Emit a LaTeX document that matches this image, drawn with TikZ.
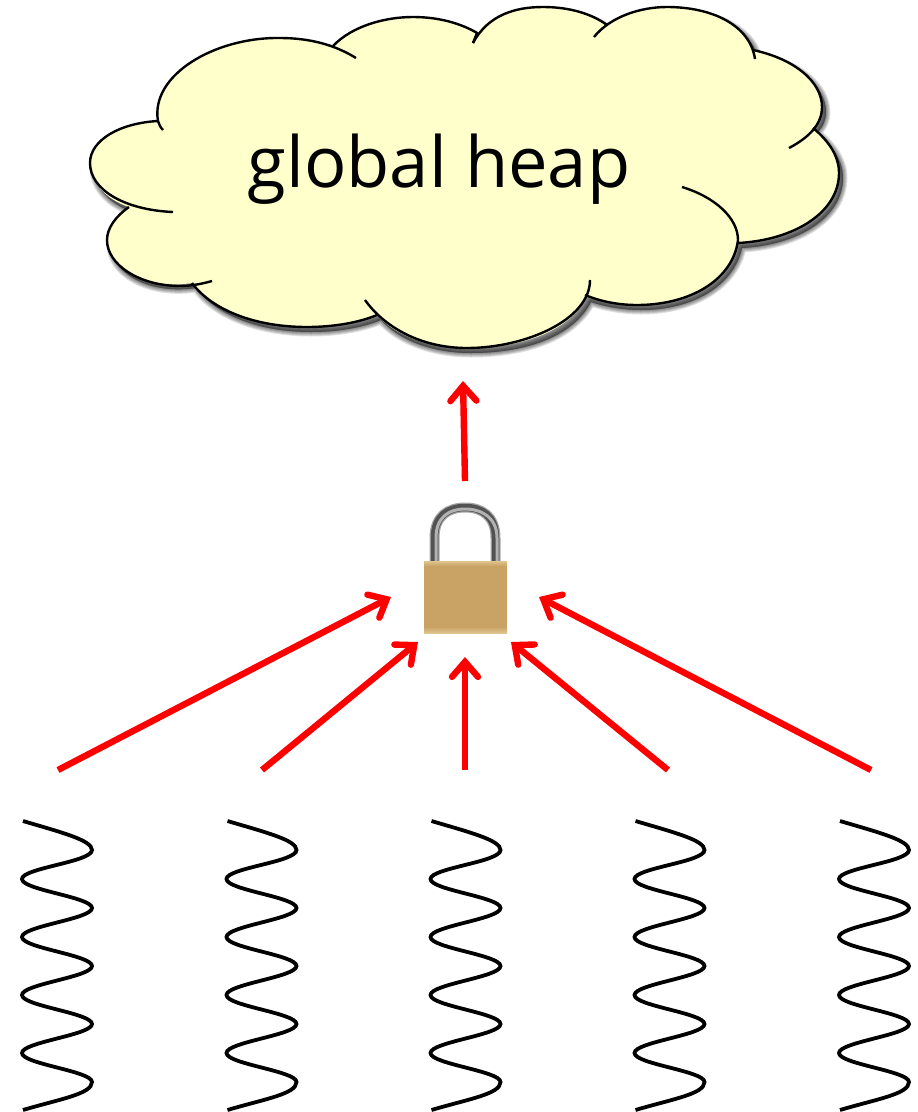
\documentclass[tikz,border=0pt]{standalone}
\usepackage{fontspec}
\setmainfont{Open Sans}
\usetikzlibrary{arrows.meta}
\definecolor{cloudfill}{HTML}{FFFFCC}
\definecolor{brass}{HTML}{C9A365}
\definecolor{brasslight}{HTML}{E0C58F}
\definecolor{arrowred}{HTML}{FF0000}
\newcommand{\cloudoutline}{
  (158,121)
  .. controls (150,75) and (215,37) .. (280,38)
  .. controls (300,38) and (318,41) .. (333,46)
  .. controls (352,26) and (385,17) .. (413,17)
  .. controls (440,17) and (462,24) .. (477,33)
  .. controls (490,15) and (515,7) .. (543,7)
  .. controls (570,7) and (592,14) .. (607,25)
  .. controls (622,13) and (645,7) .. (667,7)
  .. controls (712,7) and (746,25) .. (753,50)
  .. controls (795,59) and (822,82) .. (822,107)
  .. controls (822,115) and (819,122) .. (813,128)
  .. controls (830,142) and (839,157) .. (839,173)
  .. controls (839,212) and (795,240) .. (738,243)
  .. controls (730,280) and (690,305) .. (637,305)
  .. controls (620,305) and (602,302) .. (587,297)
  .. controls (570,330) and (525,348) .. (467,348)
  .. controls (428,348) and (395,335) .. (377,315)
  .. controls (358,323) and (332,327) .. (307,327)
  .. controls (255,327) and (212,310) .. (192,283)
  .. controls (145,290) and (107,268) .. (107,240)
  .. controls (107,228) and (116,216) .. (129,207)
  .. controls (105,199) and (90,182) .. (90,163)
  .. controls (90,140) and (120,123) .. (158,121)
  -- cycle}
\newcommand{\wave}[1]{
  \begin{scope}[xshift=#1]
  \draw[waveline] (23,821)
    .. controls (60,832) and (92,840) .. (92,850)
    .. controls (92,862) and (22,868) .. (22,879)
    .. controls (22,890) and (92,897) .. (92,908)
    .. controls (92,919) and (22,926) .. (22,937)
    .. controls (22,948) and (92,955) .. (92,966)
    .. controls (92,977) and (22,984) .. (22,995)
    .. controls (22,1006) and (92,1013) .. (92,1024)
    .. controls (92,1035) and (22,1042) .. (22,1053)
    .. controls (22,1064) and (92,1071) .. (92,1082)
    .. controls (92,1094) and (60,1099) .. (23,1110);
  \end{scope}}
\tikzset{
  cloudline/.style={line width=2.4pt,black,line cap=butt},
  waveline/.style={line width=3.8pt,black},
  flow/.style={line width=6.4pt,arrowred,-{Straight Barb[length=15pt,width=26pt,line cap=round]}},
  label/.style={font=\fontsize{70.5}{71}\selectfont,text=black,inner sep=0pt,anchor=base},
  shackle/.style={line width=#1,line cap=butt}
}
\newcommand{\shacklepath}{(434.5,561) -- (434.5,538) .. controls (434.5,516) and (448,507.5) .. (465,507.5) .. controls (482,507.5) and (495.5,516) .. (495.5,538) -- (495.5,561)}
\begin{document}
\begin{tikzpicture}[x=1pt,y=-1pt]
\useasboundingbox (0,0) rectangle (918,1112);
% cloud shadow
\foreach \w in {9,7,5,3,1}{
  \fill[black,opacity=0.12,draw=black,line width=\w pt,line join=round,xshift=4pt,yshift=-5pt] \cloudoutline;
}
\fill[cloudfill] \cloudoutline;
% cloud lobes
\draw[cloudline]
  (163,130) .. controls (160,127) and (159,124) .. (158,121)
  .. controls (150,75) and (215,37) .. (280,38)
  .. controls (310,38) and (335,45) .. (356,58);
\draw[cloudline]
  (333,46) .. controls (352,26) and (385,17) .. (413,17)
  .. controls (440,17) and (462,24) .. (477,33)
  -- (473,43);
\draw[cloudline]
  (473,43) .. controls (488,15) and (515,7) .. (543,7)
  .. controls (570,7) and (592,14) .. (607,25);
\draw[cloudline]
  (594,37) .. controls (610,17) and (640,7) .. (667,7)
  .. controls (712,7) and (750,25) .. (755,59);
\draw[cloudline]
  (753,50) .. controls (795,59) and (822,82) .. (822,107)
  .. controls (822,125) and (808,138) .. (789,148);
\draw[cloudline]
  (813,128) .. controls (830,142) and (839,157) .. (839,173)
  .. controls (839,212) and (795,240) .. (738,243);
\draw[cloudline]
  (682,187) .. controls (715,197) and (738,218) .. (738,240)
  .. controls (733,280) and (690,305) .. (637,305)
  .. controls (620,305) and (602,302) .. (585,295);
\draw[cloudline]
  (590,280) .. controls (590,320) and (525,348) .. (467,348)
  .. controls (422,348) and (385,328) .. (365,300);
\draw[cloudline]
  (377,315) .. controls (358,323) and (332,327) .. (307,327)
  .. controls (255,327) and (212,310) .. (192,283);
\draw[cloudline]
  (212,281) .. controls (205,283) and (193,286) .. (180,286)
  .. controls (140,286) and (107,265) .. (107,240)
  .. controls (107,228) and (116,216) .. (129,207);
\draw[cloudline]
  (173,212) .. controls (125,210) and (90,190) .. (90,163)
  .. controls (90,140) and (120,123) .. (158,121);
\node[label] (heap) at (439,187) {global heap};
% padlock
\draw[shackle=10pt,black!35] \shacklepath;
\draw[shackle=7.5pt,black!68] \shacklepath;
\draw[shackle=3pt,black!30,xshift=0pt] (436,561) -- (436,538) .. controls (436,517) and (449,509) .. (465,509) .. controls (481,509) and (497,517) .. (497,538) -- (497,561);
\fill[brass] (424,563) rectangle (507,633);
\shade[top color=brasslight,bottom color=brass] (424,561) rectangle (507,566);
\shade[top color=brass,bottom color=brasslight] (424,627) rectangle (507,633);
\coordinate (lockbody) at (465,597);
% arrow anchors
\coordinate (lockIn) at (465,481);
\coordinate (heapIn) at (463,381);
\coordinate (s1) at (58,770);  \coordinate (t1) at (391,597);
\coordinate (s2) at (262,770); \coordinate (t2) at (418,642);
\coordinate (s3) at (465,770); \coordinate (t3) at (465,657);
\coordinate (s4) at (668,770); \coordinate (t4) at (511,642);
\coordinate (s5) at (871,770); \coordinate (t5) at (539,597);
\draw[flow] (lockIn) -- (heapIn);
\draw[flow] (s1) -- (t1);
\draw[flow] (s2) -- (t2);
\draw[flow] (s3) -- (t3);
\draw[flow] (s4) -- (t4);
\draw[flow] (s5) -- (t5);
% waves
\wave{0pt}
\wave{204.5pt}
\wave{408.5pt}
\wave{612.5pt}
\wave{817pt}
\end{tikzpicture}
\end{document}
